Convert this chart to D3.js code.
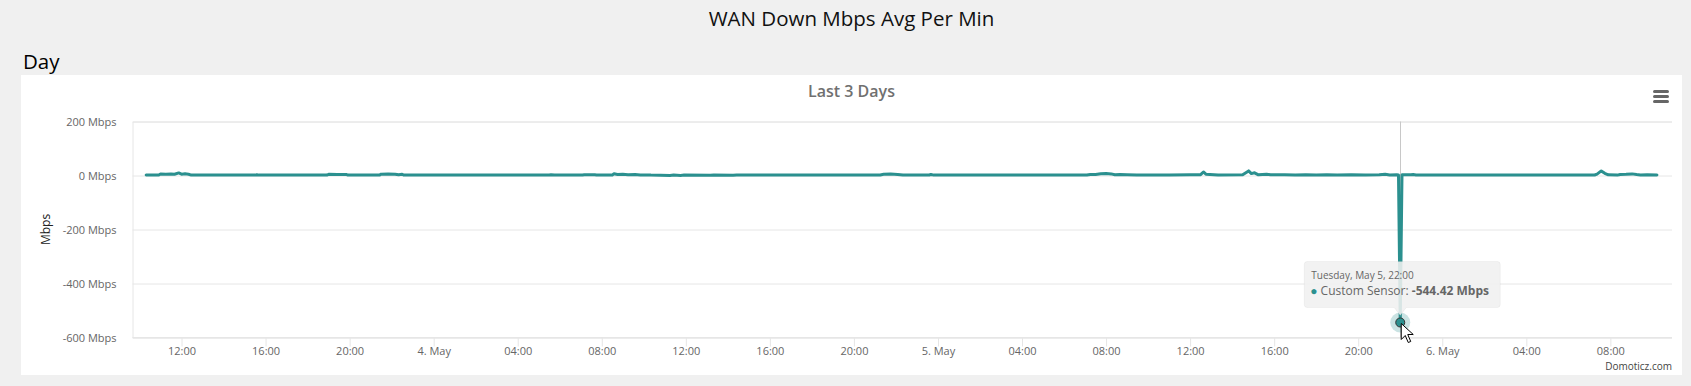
<!DOCTYPE html>
<html><head><meta charset="utf-8">
<script src="https://cdn.jsdelivr.net/npm/d3@7"></script>
<style>
html,body{margin:0;padding:0;background:#f0f0f0;overflow:hidden;}
svg{display:block;font-family:"Open Sans",sans-serif;}
</style></head><body>
<svg id="c" width="1691" height="386"></svg>
<script>
// ---------- data ----------
const pageTitle = "WAN Down Mbps Avg Per Min";
const sectionTitle = "Day";
const chartTitle = "Last 3 Days";
const yAxisTitle = "Mbps";
const seriesName = "Custom Sensor";
const unit = "Mbps";
const creditText = "Domoticz.com";

const times = [
 "2020-05-03 10:19","2020-05-03 10:55","2020-05-03 11:00","2020-05-03 11:15","2020-05-03 11:30","2020-05-03 11:40",
 "2020-05-03 11:52","2020-05-03 12:00","2020-05-03 12:10","2020-05-03 12:20","2020-05-03 12:28","2020-05-03 14:00",
 "2020-05-03 15:30","2020-05-03 15:35","2020-05-03 15:40","2020-05-03 17:30","2020-05-03 18:55","2020-05-03 19:00",
 "2020-05-03 19:25","2020-05-03 19:50","2020-05-03 19:55","2020-05-03 21:25","2020-05-03 21:30","2020-05-03 21:50",
 "2020-05-03 22:10","2020-05-03 22:20","2020-05-03 22:30","2020-05-03 22:35","2020-05-04 02:00","2020-05-04 05:30",
 "2020-05-04 05:35","2020-05-04 05:45","2020-05-04 07:05","2020-05-04 07:10","2020-05-04 07:40","2020-05-04 07:45",
 "2020-05-04 08:30","2020-05-04 08:35","2020-05-04 08:45","2020-05-04 09:00","2020-05-04 09:15","2020-05-04 09:35",
 "2020-05-04 09:50","2020-05-04 10:15","2020-05-04 10:20","2020-05-04 11:15","2020-05-04 11:25","2020-05-04 11:45",
 "2020-05-04 11:55","2020-05-04 13:10","2020-05-04 13:20","2020-05-04 14:15","2020-05-04 14:25","2020-05-04 18:00",
 "2020-05-04 21:15","2020-05-04 21:25","2020-05-04 21:45","2020-05-04 22:05","2020-05-04 22:20","2020-05-04 23:35",
 "2020-05-04 23:40","2020-05-04 23:48","2020-05-05 03:00","2020-05-05 07:05","2020-05-05 07:15","2020-05-05 07:30",
 "2020-05-05 07:45","2020-05-05 08:00","2020-05-05 08:15","2020-05-05 08:25","2020-05-05 08:40","2020-05-05 09:00",
 "2020-05-05 09:28","2020-05-05 11:00","2020-05-05 12:00","2020-05-05 12:30","2020-05-05 12:38","2020-05-05 12:45",
 "2020-05-05 13:20","2020-05-05 14:30","2020-05-05 14:47","2020-05-05 14:55","2020-05-05 15:04","2020-05-05 15:15",
 "2020-05-05 15:38","2020-05-05 15:50","2020-05-05 16:30","2020-05-05 17:00","2020-05-05 17:30","2020-05-05 18:00",
 "2020-05-05 18:30","2020-05-05 19:00","2020-05-05 19:40","2020-05-05 20:20","2020-05-05 21:00","2020-05-05 21:17",
 "2020-05-05 21:30","2020-05-05 21:50","2020-05-05 21:55","2020-05-05 22:00","2020-05-05 22:05","2020-05-05 22:30",
 "2020-05-05 22:37","2020-05-05 22:45","2020-05-06 02:00","2020-05-06 07:15","2020-05-06 07:22","2020-05-06 07:34",
 "2020-05-06 07:44","2020-05-06 07:54","2020-05-06 08:20","2020-05-06 08:28","2020-05-06 08:45","2020-05-06 09:02",
 "2020-05-06 09:15","2020-05-06 09:26","2020-05-06 09:45","2020-05-06 10:13"
];
const values = [
 1.5,1.8,5.5,4.8,5.2,4.6,
 9.5,5.0,6.2,4.8,1.6,1.4,
 1.5,3.0,1.5,1.4,1.6,4.2,
 3.8,4.0,1.6,1.5,5.0,5.5,
 4.8,2.8,4.6,1.5,1.4,1.6,
 2.8,1.5,1.6,2.6,2.4,1.5,
 1.6,6.8,4.0,5.0,3.2,3.5,
 2.0,2.2,1.5,0.3,1.5,0.4,
 1.5,0.5,1.5,0.6,1.5,1.5,
 1.8,4.5,5.5,4.0,1.6,1.8,
 4.0,1.5,1.4,1.6,4.0,3.5,
 6.5,7.5,6.0,3.0,4.0,2.8,
 1.5,1.4,2.5,3.0,13.0,5.0,
 2.0,3.0,17.0,7.0,10.0,2.5,
 5.0,2.5,3.0,1.8,3.0,1.6,
 3.0,2.0,2.8,1.5,2.5,5.0,
 2.2,2.5,1.5,-544.42,2.5,2.8,
 3.5,1.8,1.5,1.8,5.0,17.0,
 8.0,2.5,1.5,4.0,4.5,6.0,
 3.5,2.0,3.0,1.8
];

const xDomain = ["2020-05-03 09:40","2020-05-06 10:56"];
const xTicks = [
 "2020-05-03 12:00","2020-05-03 16:00","2020-05-03 20:00","2020-05-04 00:00","2020-05-04 04:00","2020-05-04 08:00",
 "2020-05-04 12:00","2020-05-04 16:00","2020-05-04 20:00","2020-05-05 00:00","2020-05-05 04:00","2020-05-05 08:00",
 "2020-05-05 12:00","2020-05-05 16:00","2020-05-05 20:00","2020-05-06 00:00","2020-05-06 04:00","2020-05-06 08:00"
];
const xTickLabels = ["12:00","16:00","20:00","4. May","04:00","08:00","12:00","16:00","20:00","5. May","04:00","08:00","12:00","16:00","20:00","6. May","04:00","08:00"];
const yDomain = [-600, 200];
const yTicks = [-600, -400, -200, 0, 200];
const yTickLabels = ["-600 Mbps","-400 Mbps","-200 Mbps","0 Mbps","200 Mbps"];
const hoverTime = "2020-05-05 22:00";
const hoverValue = -544.42;
const tooltipHeader = "Tuesday, May 5, 22:00";

// ---------- layout ----------
const W = 1691, H = 386;
const panel = {x: 21, y: 75, w: 1661, h: 300};
const plot = {left: 132.5, right: 1672, top: 121.5, bottom: 337.5};
const lineColor = "#2b908f";

const parse = d3.timeParse("%Y-%m-%d %H:%M");
const data = times.map((t, i) => ({t: parse(t), v: values[i]}));

const svg = d3.select("#c");
svg.append("rect").attr("width", W).attr("height", H).attr("fill", "#f0f0f0");

svg.append("text").attr("x", panel.x + panel.w / 2).attr("y", 26)
  .attr("text-anchor", "middle").attr("font-size", 20.5).attr("fill", "#111").text(pageTitle);
svg.append("text").attr("x", 23).attr("y", 69)
  .attr("font-size", 20.5).attr("font-weight", 500).attr("fill", "#000").text(sectionTitle);

svg.append("rect").attr("x", panel.x).attr("y", panel.y).attr("width", panel.w).attr("height", panel.h).attr("fill", "#fff");

svg.append("text").attr("x", panel.x + panel.w / 2).attr("y", 97)
  .attr("text-anchor", "middle").attr("font-size", 16).attr("font-weight", 600).attr("fill", "#707070").text(chartTitle);

// hamburger menu
const hb = svg.append("g").attr("stroke", "#666").attr("stroke-width", 3).attr("stroke-linecap", "round");
[91.5, 96.5, 101.5].forEach(yy => hb.append("line").attr("x1", panel.x + panel.w - 27.5).attr("x2", panel.x + panel.w - 14.5).attr("y1", yy).attr("y2", yy));

const x = d3.scaleTime().domain(xDomain.map(parse)).range([plot.left, plot.right]);
const y = d3.scaleLinear().domain(yDomain).range([plot.bottom, plot.top]);

// gridlines
const yAxis = d3.axisLeft(y).tickValues(yTicks).tickSize(-(plot.right - plot.left)).tickFormat((d, i) => yTickLabels[i]);
const gy = svg.append("g").attr("transform", `translate(${plot.left},0)`).call(yAxis);
gy.select(".domain").attr("stroke", "#e6e6e6");
gy.selectAll(".tick line").attr("stroke", "#e6e6e6");
gy.selectAll(".tick text").attr("x", -16).attr("dy", "0.32em").attr("font-size", 11).attr("fill", "#666").attr("font-family", "Open Sans");

svg.append("text").attr("transform", `translate(50,${(plot.top + plot.bottom) / 2}) rotate(-90)`)
  .attr("text-anchor", "middle").attr("font-size", 12).attr("fill", "#222").text(yAxisTitle);

const xAxis = d3.axisBottom(x).tickValues(xTicks.map(parse)).tickSize(9).tickFormat((d, i) => xTickLabels[i]);
const gx = svg.append("g").attr("transform", `translate(0,${plot.bottom})`).call(xAxis);
gx.select(".domain").attr("stroke", "#e6e6e6").attr("d", `M${plot.left},0H${plot.right}`);
gx.selectAll(".tick line").attr("stroke", "#e6e6e6");
gx.selectAll(".tick text").attr("y", 10).attr("dy", "0.71em").attr("font-size", 11).attr("fill", "#666").attr("font-family", "Open Sans");

// crosshair
const hx = x(parse(hoverTime)), hy = y(hoverValue);
svg.append("line").attr("x1", Math.round(hx) + 0.5).attr("x2", Math.round(hx) + 0.5)
  .attr("y1", plot.top).attr("y2", plot.bottom).attr("stroke", "#c8c8c8").attr("stroke-width", 1);

// series line
const line = d3.line().x(d => x(d.t)).y(d => y(d.v));
svg.append("path").datum(data).attr("d", line).attr("fill", "none")
  .attr("stroke", lineColor).attr("stroke-width", 3).attr("stroke-linejoin", "round").attr("stroke-linecap", "round");

// hover halo and marker
svg.append("circle").attr("cx", hx).attr("cy", hy).attr("r", 10).attr("fill", lineColor).attr("fill-opacity", 0.25);
svg.append("circle").attr("cx", hx).attr("cy", hy).attr("r", 4.5).attr("fill", lineColor).attr("stroke", "#333").attr("stroke-width", 1);

// tooltip
const tw = 196, th = 46;
const tx = hx - 96, ty = hy - 61;
const tip = svg.append("g");
tip.append("path")
  .attr("d", `M${tx + 3},${ty}H${tx + tw - 3}Q${tx + tw},${ty} ${tx + tw},${ty + 3}V${ty + th - 3}Q${tx + tw},${ty + th} ${tx + tw - 3},${ty + th}H${hx + 6}L${hx},${ty + th + 8}L${hx - 6},${ty + th}H${tx + 3}Q${tx},${ty + th} ${tx},${ty + th - 3}V${ty + 3}Q${tx},${ty} ${tx + 3},${ty}Z`)
  .attr("fill", "rgba(240,240,240,0.88)").attr("stroke", "rgba(0,0,0,0.04)");
tip.append("text").attr("x", tx + 7).attr("y", ty + 18).attr("font-size", 10).attr("fill", "#666").text(tooltipHeader);
const body = tip.append("text").attr("x", tx + 6).attr("y", ty + 34).attr("font-size", 12).attr("fill", "#666");
body.append("tspan").attr("fill", lineColor).text("\u25CF ");
body.append("tspan").text(seriesName + ": ");
body.append("tspan").attr("font-weight", 700).text(`${hoverValue} ${unit}`);

// mouse cursor
const cx0 = hx + 1, cy0 = hy + 1;
svg.append("path")
  .attr("d", `M${cx0},${cy0}v16l4,-4l3,7l2.5,-1l-3,-7h5.5z`)
  .attr("fill", "#fff").attr("stroke", "#000").attr("stroke-width", 1).attr("stroke-linejoin", "round");

// credits
svg.append("text").attr("x", plot.right).attr("y", 370).attr("text-anchor", "end")
  .attr("font-size", 10).attr("fill", "#444").text(creditText);
</script>
</body></html>
